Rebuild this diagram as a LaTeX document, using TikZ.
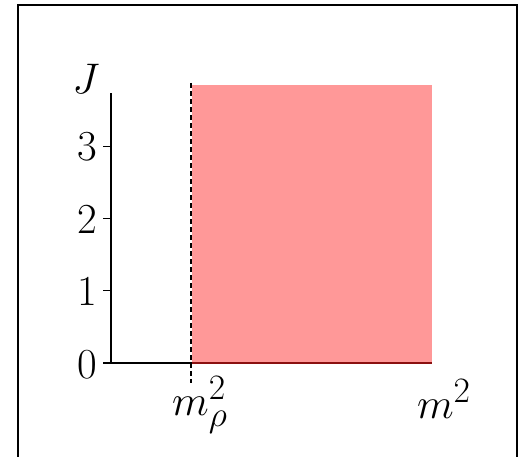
\documentclass[tikz,border=0pt]{standalone}
\usepackage{graphicx}
\usepackage{tikz}
\usetikzlibrary{positioning,calc}
\definecolor{BandRed}{HTML}{FF9898}
\definecolor{EdgeRed}{HTML}{8B1010}
\tikzset{
  ax/.style={draw=black,line width=1.1pt},
  tick/.style={draw=black,line width=1.1pt},
  lab/.style={inner sep=0pt},
  band/.style={fill=BandRed,draw=none},
  edge/.style={draw=EdgeRed,line width=1.1pt},
  thr/.style={draw=black,line width=1.1pt,dash pattern=on 5pt off 3pt},
}
\newcommand{\bigtxt}[1]{\scalebox{1.72}{\Huge #1}}

\begin{document}
\begin{tikzpicture}[x=1pt,y=1pt]
\useasboundingbox (0,0) rectangle (519,457);
\draw[line width=1.8pt] (18,-5) -- (18,452) -- (517,452) -- (517,-5);

\coordinate (o) at (111,94);
\coordinate (ytop) at (111,364);
\coordinate (rho) at (192,94);
\coordinate (xend) at (432,94);

\fill[band] (rho) rectangle (432,372);
\draw[edge] (rho) -- (xend);
\draw[ax] (rho) -- (o) -- (ytop);
\draw[thr] (191,374) -- (191,74);

\draw[tick] (o) -- ++(-8,0);
\draw[tick] (111,166.3) -- ++(-8,0);
\draw[tick] (111,238.6) -- ++(-8,0);
\draw[tick] (111,310.9) -- ++(-8,0);
\node[lab,anchor=east] (j0) at (97,92) {\bigtxt{$0$}};
\node[lab,anchor=east] (j1) at (97,165) {\bigtxt{$1$}};
\node[lab,anchor=east] (j2) at (97,237.5) {\bigtxt{$2$}};
\node[lab,anchor=east] (j3) at (97,310) {\bigtxt{$3$}};

\node[lab] (jlab) at (86,378) {\bigtxt{$J$}};
\node[lab] (mrho) at (200,52) {\bigtxt{$m_\rho^2$}};
\node[lab] (msq) at (444,58) {\bigtxt{$m^2$}};
\end{tikzpicture}
\end{document}
